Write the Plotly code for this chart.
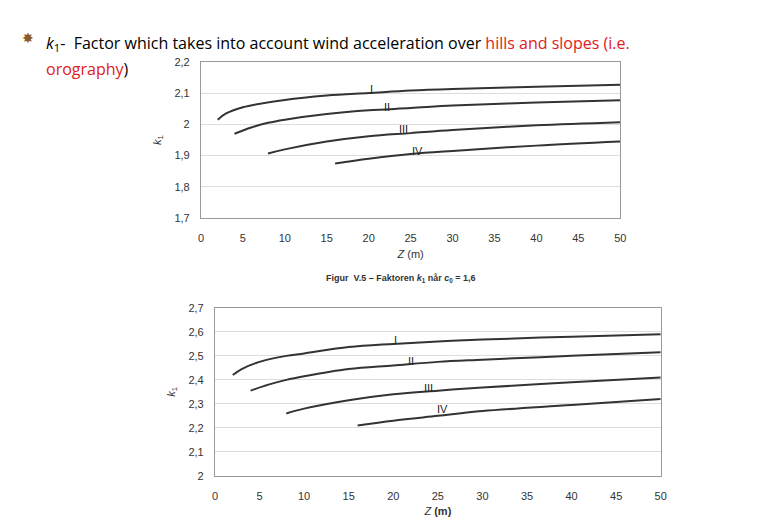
import plotly.graph_objects as go

top_I_z = [2, 3, 5, 10, 15, 20, 25, 30, 40, 50]
top_I_k = [2.015, 2.035, 2.055, 2.078, 2.092, 2.100, 2.108, 2.113, 2.120, 2.127]
top_II_z = [4, 6, 8, 10, 15, 20, 25, 30, 40, 50]
top_II_k = [1.970, 1.990, 2.005, 2.015, 2.033, 2.045, 2.052, 2.060, 2.070, 2.077]
top_III_z = [8, 10, 15, 20, 25, 30, 40, 50]
top_III_k = [1.907, 1.920, 1.945, 1.962, 1.972, 1.982, 1.997, 2.007]
top_IV_z = [16, 20, 25, 30, 40, 50]
top_IV_k = [1.875, 1.890, 1.905, 1.915, 1.932, 1.945]

bot_I_z = [2, 3, 5, 8, 10, 15, 20, 25, 30, 40, 50]
bot_I_k = [2.42, 2.445, 2.475, 2.50, 2.51, 2.537, 2.55, 2.56, 2.568, 2.58, 2.59]
bot_II_z = [4, 6, 8, 10, 15, 20, 25, 30, 40, 50]
bot_II_k = [2.355, 2.38, 2.40, 2.415, 2.445, 2.46, 2.475, 2.484, 2.50, 2.515]
bot_III_z = [8, 10, 15, 20, 25, 30, 40, 50]
bot_III_k = [2.26, 2.28, 2.315, 2.34, 2.355, 2.368, 2.39, 2.41]
bot_IV_z = [16, 20, 25, 30, 40, 50]
bot_IV_k = [2.21, 2.23, 2.25, 2.27, 2.295, 2.32]

labels = ["I", "II", "III", "IV"]
top_label_pos = [(20.3, 2.112), (22.2, 2.056), (24.2, 1.985), (25.8, 1.915)]
bot_label_pos = [(20.2, 2.567), (22, 2.477), (24, 2.367), (25.5, 2.28)]

x_ticks = [0, 5, 10, 15, 20, 25, 30, 35, 40, 45, 50]
top_y_ticks = [1.7, 1.8, 1.9, 2.0, 2.1, 2.2]
top_y_text = ["1,7", "1,8", "1,9", "2", "2,1", "2,2"]
bot_y_ticks = [2.0, 2.1, 2.2, 2.3, 2.4, 2.5, 2.6, 2.7]
bot_y_text = ["2", "2,1", "2,2", "2,3", "2,4", "2,5", "2,6", "2,7"]

line = dict(color="#333333", width=2, shape="spline")
fig = go.Figure()
for z, k in [(top_I_z, top_I_k), (top_II_z, top_II_k), (top_III_z, top_III_k), (top_IV_z, top_IV_k)]:
    fig.add_trace(go.Scatter(x=z, y=k, mode="lines", line=line, xaxis="x", yaxis="y", showlegend=False))
for z, k in [(bot_I_z, bot_I_k), (bot_II_z, bot_II_k), (bot_III_z, bot_III_k), (bot_IV_z, bot_IV_k)]:
    fig.add_trace(go.Scatter(x=z, y=k, mode="lines", line=line, xaxis="x2", yaxis="y2", showlegend=False))

tf = dict(family="Liberation Sans", size=11, color="#333")
common = dict(showline=True, linecolor="#999", mirror=True, automargin=False, zeroline=False,
              ticks="outside", tickcolor="rgba(0,0,0,0)", tickfont=tf)
ax = dict(common, range=[0, 50], tickvals=x_ticks, showgrid=False, ticklen=10)
fig.update_layout(
    width=778, height=528, margin=dict(l=0, r=0, t=0, b=0),
    paper_bgcolor="white", plot_bgcolor="white",
    xaxis=dict(ax, domain=[0.248, 0.787], anchor="y",
               title=dict(text="<i>Z</i> (m)", font=tf, standoff=6)),
    yaxis=dict(common, domain=[0.602, 0.898], range=[1.7, 2.2], tickvals=top_y_ticks, ticktext=top_y_text,
               showgrid=True, gridcolor="#dddddd", anchor="x", ticklen=8,
               title=dict(text="<i>k</i><sub>1</sub>", font=tf, standoff=10)),
    xaxis2=dict(ax, domain=[0.266, 0.839], anchor="y2",
                title=dict(text="<i>Z</i> <b>(m)</b>", font=tf, standoff=6)),
    yaxis2=dict(common, domain=[0.114, 0.432], range=[2.0, 2.7], tickvals=bot_y_ticks, ticktext=bot_y_text,
                showgrid=True, gridcolor="#dddddd", anchor="x2", ticklen=8,
                title=dict(text="<i>k</i><sub>1</sub>", font=tf, standoff=10)),
)
for lab, (x, y) in zip(labels, top_label_pos):
    fig.add_annotation(x=x, y=y, xref="x", yref="y", text=lab, showarrow=False,
                       font=dict(family="Liberation Sans", size=11, color="#222"))
for lab, (x, y) in zip(labels, bot_label_pos):
    fig.add_annotation(x=x, y=y, xref="x2", yref="y2", text=lab, showarrow=False,
                       font=dict(family="Liberation Sans", size=11, color="#222"))

fig.add_annotation(x=393 / 778, y=1 - 270 / 528, xref="paper", yref="paper", showarrow=False,
                   text="<b>Figur  V.5 – Faktoren <i>k</i><sub>1</sub> når <i>c</i><sub>0</sub> = 1,6</b>",
                   font=dict(family="Liberation Sans", size=9, color="#333"))
fig.add_annotation(x=12 / 778, y=1 - 18 / 528, xref="paper", yref="paper", showarrow=False,
                   text="✸", font=dict(size=14, color="#8B5A2B"))
fig.add_annotation(x=36 / 778, y=1 - 22 / 528, xref="paper", yref="paper", showarrow=False, xanchor="left",
                   text="<i>k</i><sub>1</sub>-  Factor which takes into account wind acceleration over "
                        "<span style='color:#e02020'>hills and slopes (i.e.</span>",
                   font=dict(family="Open Sans", size=16, color="black"))
fig.add_annotation(x=36 / 778, y=1 - 48 / 528, xref="paper", yref="paper", showarrow=False, xanchor="left",
                   text="<span style='color:#e02020'>orography</span>)",
                   font=dict(family="Open Sans", size=16, color="black"))
fig.write_html("out.html")
